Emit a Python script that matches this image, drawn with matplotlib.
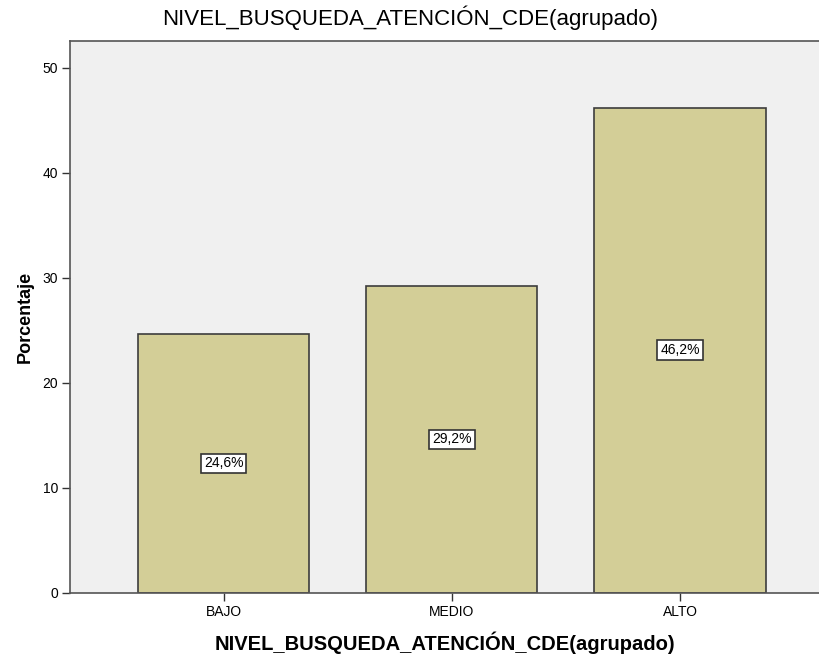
import matplotlib
matplotlib.use("Agg")
import matplotlib.pyplot as plt

categories = ["BAJO", "MEDIO", "ALTO"]
values = [24.6, 29.2, 46.2]
bar_labels = ["24,6%", "29,2%", "46,2%"]
yticks = [0, 10, 20, 30, 40, 50]

plt.rcParams['font.family'] = ['Liberation Sans', 'DejaVu Sans']

fig = plt.figure(figsize=(8.2, 6.56), dpi=100)
ax = fig.add_axes([70.5/820, 1 - 592.5/656, 1 - 70.5/820, (592.5 - 40.5)/656])
ax.set_facecolor("#F0F0F0")

x = list(range(len(categories)))
ax.bar(x, values, width=0.75, color="#D3CE97", edgecolor="#3C3C3C", linewidth=1.2, zorder=2)

for xi, v, lab in zip(x, values, bar_labels):
    ax.text(xi, v / 2, lab, ha="center", va="center", fontsize=10, zorder=3,
            bbox=dict(boxstyle="square,pad=0.2", facecolor="white", edgecolor="#333333", linewidth=1.2))

ax.set_xlim(-0.673, 2.614)
ax.set_ylim(0, 52.6)
ax.set_xticks(x)
ax.set_xticklabels(categories, fontsize=10)
ax.set_yticks(yticks)
ax.set_yticklabels([str(t) for t in yticks], fontsize=10)
ax.tick_params(axis="both", direction="out", length=6, width=1, color="#333333", pad=3)

for s in ["left", "bottom", "top"]:
    ax.spines[s].set_color("#555555")
    ax.spines[s].set_linewidth(1.2)
ax.spines["right"].set_visible(False)

ax.set_ylabel("Porcentaje", fontsize=13, fontweight="bold", labelpad=6)
ax.set_xlabel("NIVEL_BUSQUEDA_ATENCIÓN_CDE(agrupado)", fontsize=14.5, fontweight="bold", labelpad=9)
fig.text(0.5, 1 - 18/656, "NIVEL_BUSQUEDA_ATENCIÓN_CDE(agrupado)", ha="center", va="center", fontsize=16)

fig.savefig("out.png", dpi=100)
